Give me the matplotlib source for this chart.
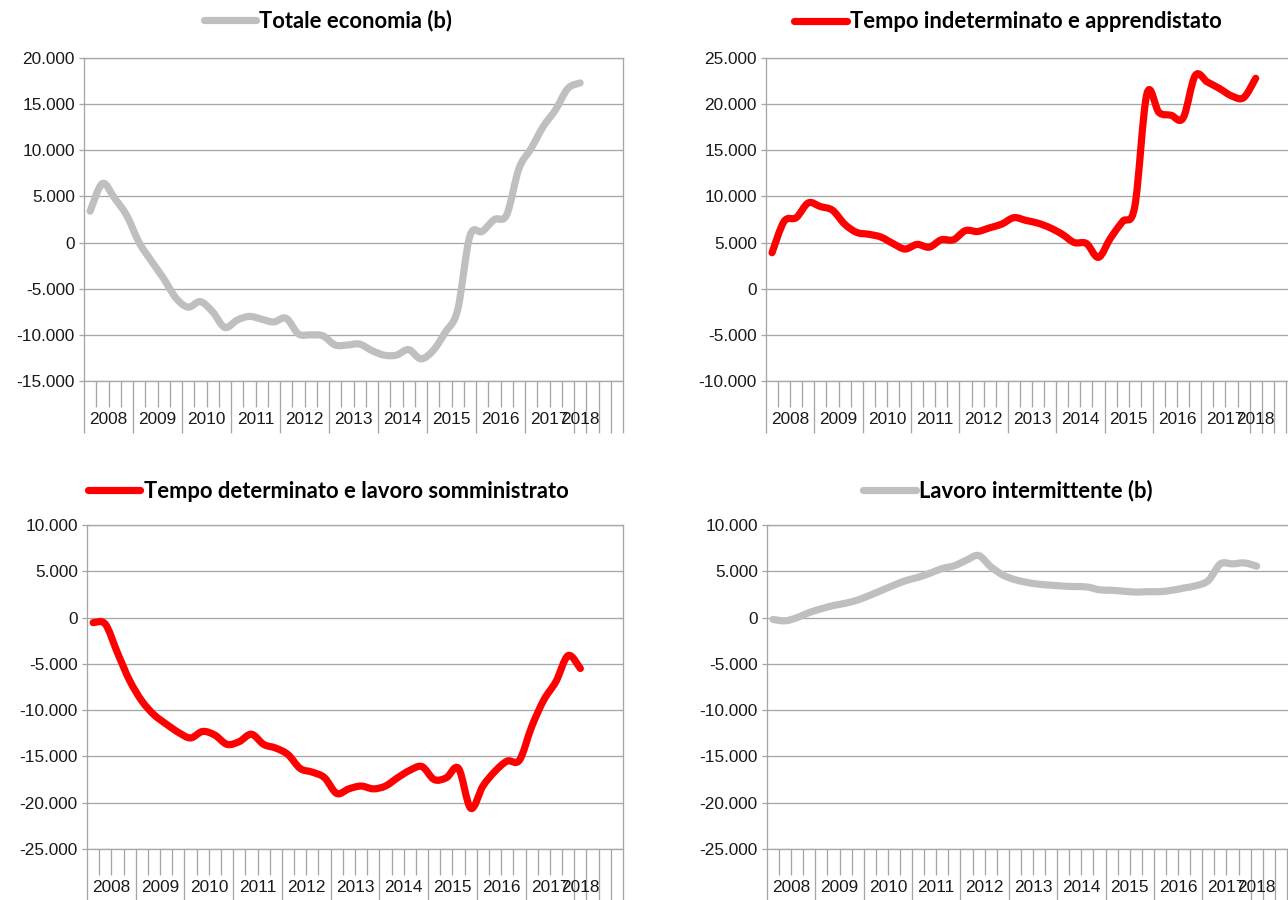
import matplotlib.pyplot as plt
import numpy as np
from matplotlib.path import Path
from matplotlib.patches import PathPatch
from matplotlib.lines import Line2D
from matplotlib.ticker import FixedLocator, FuncFormatter, NullFormatter

W, H = 1288, 900

# quarterly data, 2008Q1 .. 2018Q1
totale = [3400, 6400, 4800, 2900, 0, -2000, -3900, -6000, -7000, -6400,
          -7500, -9200, -8400, -8000, -8300, -8600, -8200, -9900, -10000, -10100,
          -11100, -11100, -11000, -11700, -12200, -12200, -11600, -12600, -11700, -9700,
          -7300, 700, 1200, 2500, 3000, 8000, 10200, 12600, 14400, 16700,
          17300]
indeterminato = [3900, 7300, 7700, 9300, 8900, 8500, 7000, 6100, 5900, 5600,
                 4900, 4300, 4800, 4500, 5300, 5300, 6300, 6200, 6600, 7000,
                 7700, 7400, 7100, 6600, 5900, 5000, 4900, 3400, 5500, 7300,
                 8900, 21100, 19100, 18800, 18500, 23100, 22400, 21700, 20900, 20700,
                 22800]
determinato = [-550, -700, -3800, -6800, -9000, -10500, -11500, -12400, -13000, -12300,
               -12700, -13700, -13400, -12600, -13700, -14100, -14800, -16300, -16700, -17300,
               -19000, -18500, -18200, -18500, -18200, -17300, -16500, -16100, -17500, -17300,
               -16300, -20600, -18200, -16600, -15500, -15400, -11800, -8900, -6900, -4100,
               -5500]
intermittente = [-200, -350, 0, 550, 950, 1300, 1550, 1900, 2400, 2950,
                 3500, 4000, 4350, 4800, 5300, 5600, 6200, 6700, 5500, 4600,
                 4100, 3800, 3600, 3500, 3400, 3350, 3300, 3000, 2950, 2850,
                 2750, 2800, 2800, 2950, 3200, 3450, 4000, 5800, 5800, 5900,
                 5550]

years = ['2008', '2009', '2010', '2011', '2012', '2013', '2014', '2015', '2016', '2017', '2018']
year_start = [0, 4, 8, 12, 16, 20, 24, 28, 32, 36, 40]
year_len = [4, 4, 4, 4, 4, 4, 4, 4, 4, 4, 1]
n_cat = 44

titles = ['Totale economia (b)', 'Tempo indeterminato e apprendistato',
          'Tempo determinato e lavoro somministrato', 'Lavoro intermittente (b)']
series = [totale, indeterminato, determinato, intermittente]
colors = ['#BFBFBF', '#FF0000', '#FF0000', '#BFBFBF']
ylims = [(-15000, 20000), (-10000, 25000), (-25000, 10000), (-25000, 10000)]

# pixel boxes (left, right, top, bottom) and legend centres
boxes = [(84, 623, 58, 381), (766, 1298, 58, 381), (87, 623, 525, 849), (767, 1299, 525, 849)]
leg_pos = [(328, 21), (1008, 22), (328, 491), (1008, 491)]

grid_col = '#A6A6A6'
txt_col = '#1A1A1A'
px = 72 / 100  # points per pixel


def smooth_path(x, y):
    pts = np.column_stack([x, y]).astype(float)
    n = len(pts)
    verts = [pts[0]]
    codes = [Path.MOVETO]
    for i in range(n - 1):
        p0 = pts[i - 1] if i > 0 else pts[i]
        p1 = pts[i]
        p2 = pts[i + 1]
        p3 = pts[i + 2] if i + 2 < n else pts[i + 1]
        c1 = p1 + (p2 - p0) / 6
        c2 = p2 - (p3 - p1) / 6
        verts += [c1, c2, p2]
        codes += [Path.CURVE4] * 3
    return Path(verts, codes)


fig = plt.figure(figsize=(W / 100, H / 100), dpi=100)
plt.rcParams['font.family'] = ['Liberation Sans', 'DejaVu Sans']

for k in range(4):
    l, r, t, b = boxes[k]
    ax = fig.add_axes([l / W, 1 - b / H, (r - l) / W, (b - t) / H])
    vals = series[k]
    x = np.arange(len(vals)) + 0.5
    patch = PathPatch(smooth_path(x, vals), fill=False, edgecolor=colors[k],
                      lw=7.2 * px, capstyle='round', joinstyle='round', zorder=3)
    ax.add_patch(patch)

    ax.set_xlim(0, n_cat)
    ax.set_ylim(*ylims[k])
    ax.set_yticks(np.arange(ylims[k][0], ylims[k][1] + 1, 5000))
    ax.yaxis.set_major_formatter(FuncFormatter(lambda v, p: f"{int(v):,}".replace(',', '.')))
    ax.grid(axis='y', color=grid_col, lw=1.3 * px, zorder=0)
    for s in ax.spines.values():
        s.set_color(grid_col)
        s.set_linewidth(1.3 * px)
    ax.tick_params(axis='y', length=5 * px, width=1.3 * px, color=grid_col, pad=3,
                   labelsize=12.4, labelcolor=txt_col)

    long_ticks = year_start + list(range(41, n_cat + 1))
    short_ticks = [i for i in range(1, 40) if i not in year_start]
    ax.xaxis.set_major_locator(FixedLocator(long_ticks))
    ax.xaxis.set_minor_locator(FixedLocator(short_ticks))
    ax.xaxis.set_major_formatter(NullFormatter())
    ax.tick_params(axis='x', which='major', length=52 * px, width=1.3 * px, color=grid_col)
    ax.tick_params(axis='x', which='minor', length=26 * px, width=1.3 * px, color=grid_col)
    for yr, st, ln in zip(years, year_start, year_len):
        ax.annotate(yr, xy=(st + ln / 2, 0), xycoords=('data', 'axes fraction'),
                    xytext=(0, -39 * px), textcoords='offset points',
                    ha='center', va='center', fontsize=12.4, color=txt_col,
                    annotation_clip=False)

    handle = Line2D([], [], color=colors[k], lw=7.2 * px, solid_capstyle='round')
    lx, ly = leg_pos[k]
    fig.legend([handle], [titles[k]], loc='center', bbox_to_anchor=(lx / W, 1 - ly / H),
               frameon=False, handlelength=2.4, handletextpad=0.15, borderpad=0,
               prop={'family': 'Lato', 'weight': 'bold', 'size': 15.8})

fig.savefig('out.png', dpi=100)
